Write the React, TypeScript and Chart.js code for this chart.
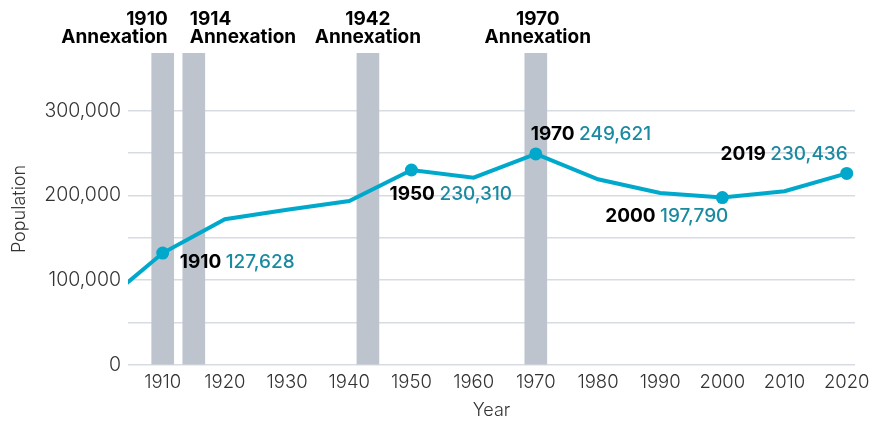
import React, { useEffect, useRef } from 'react';
import { Chart, registerables } from 'chart.js';

Chart.register(...registerables);

// ---- Data ----
const years = [1900, 1910, 1920, 1930, 1940, 1950, 1960, 1970, 1980, 1990, 2000, 2010, 2020];
const population = [70600, 132000, 172000, 183000, 193400, 230000, 221000, 249000, 219000, 203000, 197500, 205000, 226000];

const markedYears = [1910, 1950, 1970, 2000, 2020];
const markedYearLabels = ['1910', '1950', '1970', '2000', '2019'];
const markedValueLabels = ['127,628', '230,310', '249,621', '197,790', '230,436'];

const annexYears = [1910, 1915, 1943, 1970];
const annexLabels = ['1910', '1914', '1942', '1970'];

const xTicks = [1910, 1920, 1930, 1940, 1950, 1960, 1970, 1980, 1990, 2000, 2010, 2020];
const yTicks = [0, 50000, 100000, 150000, 200000, 250000, 300000];

const X_MIN = 1904.42;
const X_MAX = 2021.33;
const Y_MAX = 368000;

// ---- Styles ----
const FONT = 'Inter, "Noto Sans", sans-serif';
const LINE_COLOR = '#00a9cc';
const VALUE_COLOR = '#1a8aa0';
const BAR_COLOR = '#bdc4ce';
const GRID_COLOR = '#d7dbe2';
const TICK_COLOR = '#333333';
const LABEL_SIZE = 19;

// label placement (pixel offsets from the mark)
const markedOffsets = [
  { dx: 17, dy: 9, align: 'left' },
  { dx: -22, dy: 24, align: 'left' },
  { dx: -5, dy: -20, align: 'left' },
  { dx: 6, dy: 19, align: 'right' },
  { dx: 1, dy: -19, align: 'right' },
];
const annexPlacement = [
  { dx: 5, align: 'right' },
  { dx: -4, align: 'left' },
  { dx: 0, align: 'center' },
  { dx: 2, align: 'center' },
];

const labelPlugin = {
  id: 'customLabels',
  afterDraw(chart: any) {
    const { ctx, chartArea, scales } = chart;
    const xs = scales.x;
    const ys = scales.y;
    ctx.save();
    ctx.textBaseline = 'middle';
    // annexation labels
    ctx.font = `700 ${LABEL_SIZE}px ${FONT}`;
    ctx.fillStyle = '#000';
    annexYears.forEach((yr, i) => {
      const p = annexPlacement[i];
      const px = xs.getPixelForValue(yr) + p.dx;
      ctx.textAlign = p.align;
      ctx.fillText(annexLabels[i], px, chartArea.top - 34);
      ctx.fillText('Annexation', px, chartArea.top - 15.5);
    });
    // point labels
    markedYears.forEach((yr, i) => {
      const idx = years.indexOf(yr);
      const px = xs.getPixelForValue(yr);
      const py = ys.getPixelForValue(population[idx]);
      const o = markedOffsets[i];
      const yearText = markedYearLabels[i];
      const valText = markedValueLabels[i];
      ctx.font = `700 ${LABEL_SIZE}px ${FONT}`;
      const w1 = ctx.measureText(yearText + ' ').width;
      ctx.font = `500 ${LABEL_SIZE}px ${FONT}`;
      const w2 = ctx.measureText(valText).width;
      const total = w1 + w2;
      let left = px + o.dx;
      if (o.align === 'right') left = px + o.dx - total;
      const cy = py + o.dy;
      ctx.textAlign = 'left';
      ctx.font = `700 ${LABEL_SIZE}px ${FONT}`;
      ctx.fillStyle = '#000';
      ctx.fillText(yearText, left, cy);
      ctx.font = `500 ${LABEL_SIZE}px ${FONT}`;
      ctx.fillStyle = VALUE_COLOR;
      ctx.fillText(valText, left + w1, cy);
    });
    ctx.restore();
  },
};

export default function App() {
  const ref = useRef<HTMLCanvasElement | null>(null);

  useEffect(() => {
    document.body.style.margin = '0';
    const canvas = ref.current;
    if (!canvas) return;
    const chart = new Chart(canvas, {
      type: 'line',
      data: {
        datasets: [
          {
            type: 'line',
            data: years.map((y, i) => ({ x: y, y: population[i] })),
            borderColor: LINE_COLOR,
            borderWidth: 4,
            backgroundColor: LINE_COLOR,
            pointBackgroundColor: LINE_COLOR,
            pointBorderWidth: 0,
            pointRadius: (c: any) => (markedYears.includes(years[c.dataIndex]) ? 6.5 : 0),
            pointHoverRadius: 0,
            tension: 0,
            fill: false,
            clip: 0,
            order: 1,
          } as any,
          {
            type: 'bar',
            data: annexYears.map((y) => ({ x: y, y: Y_MAX })),
            backgroundColor: BAR_COLOR,
            barThickness: 22,
            grouped: false,
            order: 2,
          } as any,
        ],
      },
      options: {
        responsive: false,
        animation: false,
        events: [],
        layout: { padding: { top: 53, right: 36, left: 0, bottom: 0 } },
        plugins: { legend: { display: false }, tooltip: { enabled: false } },
        scales: {
          x: {
            type: 'linear',
            offset: false,
            min: X_MIN,
            max: X_MAX,
            afterBuildTicks: (s: any) => {
              s.ticks = xTicks.map((v) => ({ value: v }));
            },
            afterFit: (s: any) => {
              s.height = 56;
            },
            ticks: {
              callback: (v: any) => String(v),
              font: { family: FONT, size: 18.5, weight: 300 },
              color: TICK_COLOR,
              padding: 6,
              maxRotation: 0,
              autoSkip: false,
            },
            grid: { display: false, drawTicks: false, offset: false },
            border: { display: false },
            title: {
              display: true,
              text: 'Year',
              font: { family: FONT, size: 18, weight: 300 },
              color: TICK_COLOR,
              padding: { top: 0, bottom: 0 },
            },
          },
          y: {
            type: 'linear',
            min: 0,
            max: Y_MAX,
            afterBuildTicks: (s: any) => {
              s.ticks = yTicks.map((v) => ({ value: v }));
            },
            afterFit: (s: any) => {
              s.width = 128;
            },
            ticks: {
              callback: (v: any) => (v % 100000 === 0 ? Number(v).toLocaleString('en-US') : ''),
              font: { family: FONT, size: 19.5, weight: 300 },
              color: TICK_COLOR,
              padding: 7,
            },
            grid: { color: GRID_COLOR, lineWidth: 1.5, drawTicks: false },
            border: { display: false },
            title: {
              display: true,
              text: 'Population',
              font: { family: FONT, size: 18, weight: 300 },
              color: TICK_COLOR,
              padding: { top: 9, bottom: 0 },
            },
          },
        },
      } as any,
      plugins: [labelPlugin],
    });
    return () => chart.destroy();
  }, []);

  return (
    <div style={{ width: 891, height: 421 }}>
      <canvas ref={ref} width={891} height={421} style={{ display: 'block', width: 891, height: 421 }} />
    </div>
  );
}
